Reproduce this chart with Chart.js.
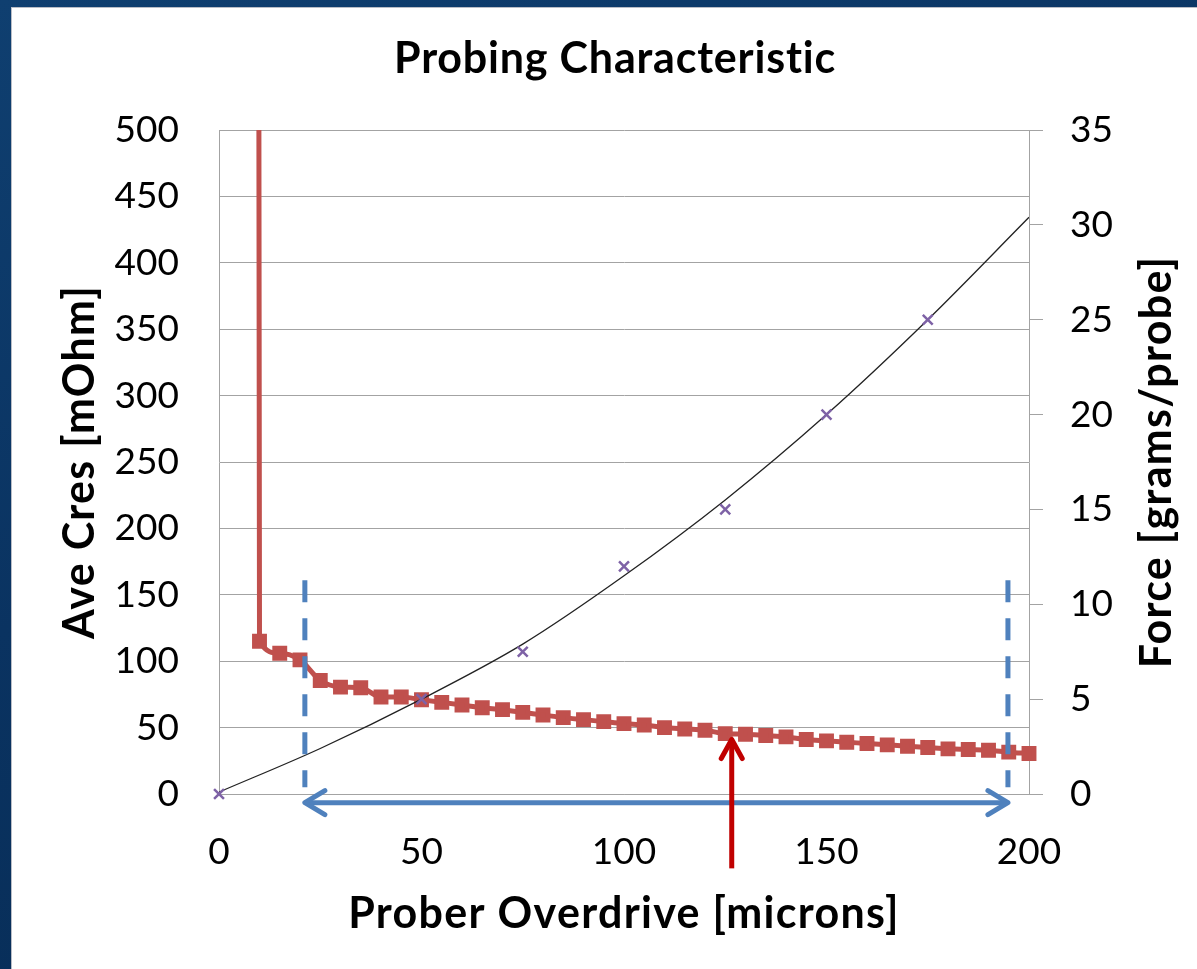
<!DOCTYPE html>
<html>
<head>
<meta charset="utf-8">
<title>Probing Characteristic</title>
<script src="https://cdn.jsdelivr.net/npm/chart.js@4.4.1/dist/chart.umd.min.js"></script>
<style>
  html, body { margin: 0; padding: 0; }
  body {
    width: 1197px; height: 969px; overflow: hidden; position: relative;
    background: linear-gradient(160deg, #0f3f70 0%, #0a3361 45%, #062a52 100%);
  }
  #panel {
    position: absolute; left: 11px; top: 7px; width: 1185px; height: 961px;
    background: #fff; border-left: 1px solid #b9bdc6; border-top: 1px solid #b9bdc6;
  }
  canvas { display: block; }
</style>
</head>
<body>
<div id="panel"><canvas id="probing" width="1185" height="961"></canvas></div>
<script>
// contact resistance vs overdrive (left axis); first point is off-scale above 500
const overdrive = [9.7, 10, 15, 20, 25, 30, 35, 40, 45, 50, 55, 60, 65, 70, 75, 80, 85, 90, 95, 100,
  105, 110, 115, 120, 125, 130, 135, 140, 145, 150, 155, 160, 165, 170, 175, 180, 185, 190, 195, 200];
const cres = [1000, 115, 106, 101, 85.5, 80.5, 80, 73, 73, 71, 69, 67, 65, 63.5, 61.5, 59.5, 57.5, 56, 54.5, 53,
  52, 50, 49, 48, 45.5, 45, 44, 43, 41, 40, 39, 38, 37, 36, 35, 34, 33.5, 33, 31.5, 30.5];

// measured force per probe (right axis)
const forceOverdrive = [0, 50, 75, 100, 125, 150, 175];
const force = [0, 5, 7.5, 12, 15, 20, 25];

// polynomial trend of the force
const trendOverdrive = [0, 25, 50, 75, 100, 125, 150, 175, 200];
const trendForce = [0.1, 2.4, 5.0, 7.9, 11.5, 15.5, 20.0, 25.0, 30.4];

// axis ticks
const xTicks = [0, 50, 100, 150, 200];
const cresTicks = [0, 50, 100, 150, 200, 250, 300, 350, 400, 450, 500];
const forceTicks = [0, 5, 10, 15, 20, 25, 30, 35];

// usable window (dashed limits + arrow) and chosen operating point, in data units
const windowLimits = [21.2, 194.8];
const windowSpan = [5, 161];
const windowArrowLevel = -6.5;
const operatingPoint = 126.6;
const operatingArrow = [-56, 41];

const BLUE = '#4f81bd';
const DARK_RED = '#c00000';
const GRID = '#a3a3a3';
const FONT = 'Lato, "Open Sans", sans-serif';

function pairs(xs, ys) {
  return xs.map((x, i) => ({x: x, y: ys[i]}));
}

function arrowHead(ctx, tipX, tipY, dirX, dirY, len, half) {
  // open "V" head pointing along (dirX, dirY)
  const bx = tipX - dirX * len, by = tipY - dirY * len;
  const px = -dirY, py = dirX;
  ctx.beginPath();
  ctx.moveTo(bx + px * half, by + py * half);
  ctx.lineTo(tipX, tipY);
  ctx.lineTo(bx - px * half, by - py * half);
  ctx.stroke();
}

function boldText(ctx, text, x, y, spacing, rotated) {
  ctx.save();
  ctx.fillStyle = '#000';
  ctx.font = 'bold 43px ' + FONT;
  ctx.textAlign = 'center';
  ctx.textBaseline = 'alphabetic';
  ctx.letterSpacing = spacing + 'px';
  ctx.translate(x, y);
  if (rotated) ctx.rotate(-Math.PI / 2);
  ctx.fillText(text, 0, 0);
  ctx.restore();
}

const overlay = {
  id: 'overlay',
  afterDatasetsDraw(chart) {
    const ctx = chart.ctx;
    const xs = chart.scales.x, ys = chart.scales.y;
    ctx.save();

    // dashed window limits
    ctx.strokeStyle = BLUE;
    ctx.lineWidth = 5;
    ctx.lineCap = 'butt';
    ctx.setLineDash([22, 16]);
    windowLimits.forEach(v => {
      const px = xs.getPixelForValue(v);
      ctx.beginPath();
      ctx.moveTo(px, ys.getPixelForValue(windowSpan[1]));
      ctx.lineTo(px, ys.getPixelForValue(windowSpan[0]));
      ctx.stroke();
    });
    ctx.setLineDash([]);

    // double arrow across the window
    const ay = ys.getPixelForValue(windowArrowLevel);
    const ax0 = xs.getPixelForValue(windowLimits[0]);
    const ax1 = xs.getPixelForValue(windowLimits[1]);
    ctx.lineCap = 'round';
    ctx.lineJoin = 'round';
    ctx.beginPath();
    ctx.moveTo(ax0 + 2, ay);
    ctx.lineTo(ax1 - 2, ay);
    ctx.stroke();
    arrowHead(ctx, ax0, ay, -1, 0, 20, 12);
    arrowHead(ctx, ax1, ay, 1, 0, 20, 12);

    // operating point arrow
    const ox = xs.getPixelForValue(operatingPoint);
    const oy0 = ys.getPixelForValue(operatingArrow[0]);
    const oy1 = ys.getPixelForValue(operatingArrow[1]);
    ctx.strokeStyle = DARK_RED;
    ctx.lineCap = 'butt';
    ctx.beginPath();
    ctx.moveTo(ox, oy0);
    ctx.lineTo(ox, oy1 + 2);
    ctx.stroke();
    ctx.lineCap = 'round';
    arrowHead(ctx, ox, oy1, 0, -1, 19, 10.5);

    ctx.restore();
  },
  afterDraw(chart) {
    const ctx = chart.ctx;
    const area = chart.chartArea;
    const midX = (area.left + area.right) / 2;
    const midY = (area.top + area.bottom) / 2;
    boldText(ctx, 'Probing Characteristic', 603, 65, 0.8, false);
    boldText(ctx, 'Prober Overdrive [microns]', midX, 920, 1.3, false);
    boldText(ctx, 'Ave Cres [mOhm]', 82, midY, 1.3, true);
    boldText(ctx, 'Force [grams/probe]', 1159, midY, 1.3, true);
  }
};

const tickFont = {family: FONT, size: 37};

new Chart(document.getElementById('probing'), {
  type: 'line',
  data: {
    datasets: [
      {
        label: 'Force',
        data: pairs(forceOverdrive, force),
        yAxisID: 'y1',
        showLine: false,
        pointStyle: 'crossRot',
        pointRadius: 7,
        pointBorderWidth: 2.5,
        borderColor: '#7e62a6',
        backgroundColor: '#7e62a6',
        clip: false
      },
      {
        label: 'Force trend',
        data: pairs(trendOverdrive, trendForce),
        yAxisID: 'y1',
        borderColor: '#222',
        borderWidth: 1.3,
        pointRadius: 0,
        cubicInterpolationMode: 'monotone'
      },
      {
        label: 'Ave Cres',
        data: pairs(overdrive, cres),
        yAxisID: 'y',
        borderColor: '#c0504d',
        backgroundColor: '#c0504d',
        borderWidth: 5,
        pointStyle: 'rect',
        pointRadius: ctx => ctx.dataIndex === 0 ? 0 : 7,
        cubicInterpolationMode: 'monotone',
        clip: {left: 10, right: 10, top: 0, bottom: 10}
      }
    ]
  },
  options: {
    responsive: false,
    animation: false,
    events: [],
    layout: {padding: {top: 122, left: 0, right: 0, bottom: 0}},
    plugins: {legend: {display: false}, tooltip: {enabled: false}, title: {display: false}},
    scales: {
      x: {
        type: 'linear',
        min: 0, max: 200,
        afterBuildTicks: s => { s.ticks = xTicks.map(v => ({value: v})); },
        afterFit: s => { s.height = 175; },
        ticks: {font: tickFont, color: '#000', padding: 28, maxRotation: 0},
        grid: {display: false},
        border: {color: GRID, width: 1}
      },
      y: {
        position: 'left',
        min: 0, max: 500,
        afterBuildTicks: s => { s.ticks = cresTicks.map(v => ({value: v})); },
        afterFit: s => { s.width = 207; },
        ticks: {font: tickFont, color: '#000', padding: 40},
        grid: {color: GRID, lineWidth: 1, drawTicks: false},
        border: {color: GRID, width: 1}
      },
      y1: {
        position: 'right',
        min: 0, max: 35,
        afterBuildTicks: s => { s.ticks = forceTicks.map(v => ({value: v})); },
        afterFit: s => { s.width = 168; },
        ticks: {font: tickFont, color: '#000', padding: 27},
        grid: {drawOnChartArea: false, color: GRID, lineWidth: 1, tickLength: 14},
        border: {color: GRID, width: 1}
      }
    }
  },
  plugins: [overlay]
});
</script>
</body>
</html>
